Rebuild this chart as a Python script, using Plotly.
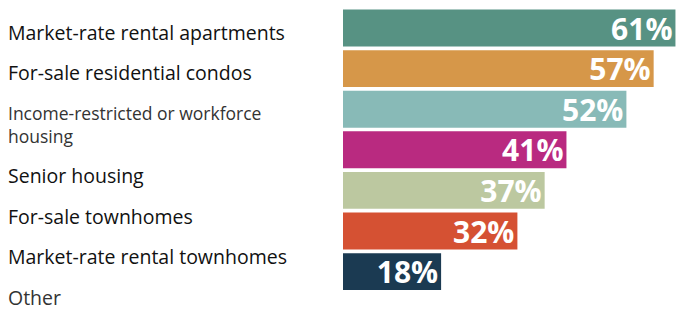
import plotly.graph_objects as go

categories = ["Market-rate rental apartments", "For-sale residential condos",
              "Income-restricted or workforce<br>housing", "Senior housing",
              "For-sale townhomes", "Market-rate rental townhomes", "Other"]
values = [61, 57, 52, 41, 37, 32, 18]
bar_colors = ["#579283", "#D69749", "#88BAB7", "#B92A80", "#BCC8A0", "#D55133", "#1B3A52"]
label_lines = [1, 1, 2, 1, 1, 1, 1]
label_sizes = [19.5, 19.5, 17.5, 19.5, 19.5, 19.5, 19.5]
label_colors = ["#111111", "#111111", "#333333", "#111111", "#111111", "#111111", "#333333"]

H = 310
W = 676
left = 343

fig = go.Figure()
fig.add_trace(go.Bar(
    x=values,
    y=list(range(len(values))),
    orientation="h",
    marker=dict(color=bar_colors, line=dict(width=0)),
    text=[f"{v}%" for v in values],
    textposition="inside",
    insidetextanchor="end",
    constraintext="none",
    textfont=dict(family="Open Sans", size=30, color="white", weight="bold"),
    width=0.91,
    hoverinfo="skip",
))

# label positions in pixels from top, laid out by number of text lines
line_h = 22
gap = 18.5
top0 = 21
annotations = []
cursor = top0
for text, n, sz, col in zip(categories, label_lines, label_sizes, label_colors):
    center = cursor + n * line_h / 2
    annotations.append(dict(
        text=text, xref="paper", yref="paper",
        x=-(left - 7) / (W - left), y=1 - center / H,
        xanchor="left", yanchor="middle", align="left", showarrow=False,
        borderpad=0,
        font=dict(family="Open Sans", size=sz, color=col),
    ))
    cursor += n * line_h + gap

fig.update_layout(
    width=W, height=H,
    margin=dict(l=left, r=0, t=0, b=0),
    paper_bgcolor="white", plot_bgcolor="white",
    showlegend=False,
    xaxis=dict(range=[0, 61.1], visible=False, fixedrange=True),
    yaxis=dict(range=[(310 - 28) / 40.6, -28 / 40.6], visible=False, fixedrange=True),
    annotations=annotations,
)

fig.write_html("out.html", config={"displayModeBar": False},
               post_script="document.body.style.margin='0px';document.body.style.overflow='hidden';")
